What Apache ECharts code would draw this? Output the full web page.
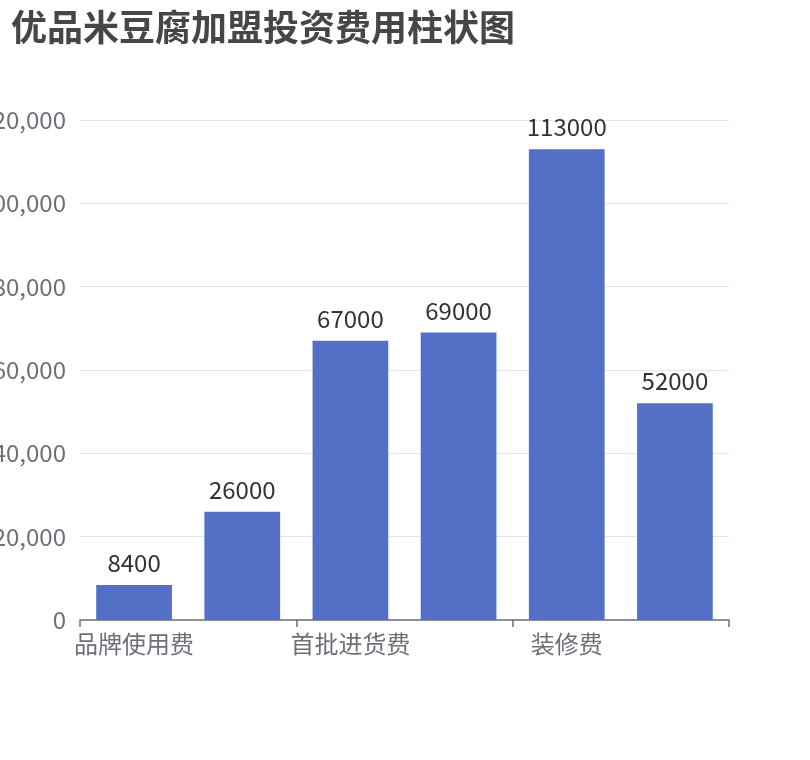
<!DOCTYPE html>
<html>
<head>
<meta charset="utf-8">
<script src="https://cdn.jsdelivr.net/npm/echarts@6/dist/echarts.min.js"></script>
<style>
html,body{margin:0;padding:0;background:#fff}
#main{width:810px;height:760px}
</style>
</head>
<body>
<div id="main"></div>
<script>
'use strict'
// 费用项目
var categories=['品牌使用费','加盟费','首批进货费','设备费','装修费','流动资金']
// 金额(元)
var costValues=[8400,26000,67000,69000,113000,52000]

var myChart=echarts.init(document.getElementById('main'))
var option={
    textStyle:{fontFamily:'Noto Sans CJK SC'},
    title:{
        text:'优品米豆腐加盟投资费用柱状图',
        left:6,
        top:4,
        textStyle:{fontSize:36,fontWeight:'bold',color:'#464646'}
    },
    grid:{left:80,right:81,top:120,bottom:140,outerBoundsMode:'none',containLabel:false},
    xAxis:{
        type:'category',
        data:categories,
        axisLine:{lineStyle:{color:'#6e7079',width:1.5}},
        axisTick:{show:true,length:7,lineStyle:{color:'#6e7079',width:1.5}},
        axisLabel:{interval:1,fontSize:24,margin:12,color:'#6e7079'}
    },
    yAxis:{
        type:'value',
        min:0,
        max:120000,
        interval:20000,
        axisLabel:{fontSize:24,margin:14,color:'#6e7079'},
        splitLine:{lineStyle:{color:'#e0e6f1'}}
    },
    series:[
        {
            type:'bar',
            data:costValues,
            barWidth:'70%',
            itemStyle:{color:'#5470c6'},
            label:{show:true,position:'top',distance:10,fontSize:24,color:'#333'}
        }
    ]
}
myChart.setOption(option)
</script>
</body>
</html>
